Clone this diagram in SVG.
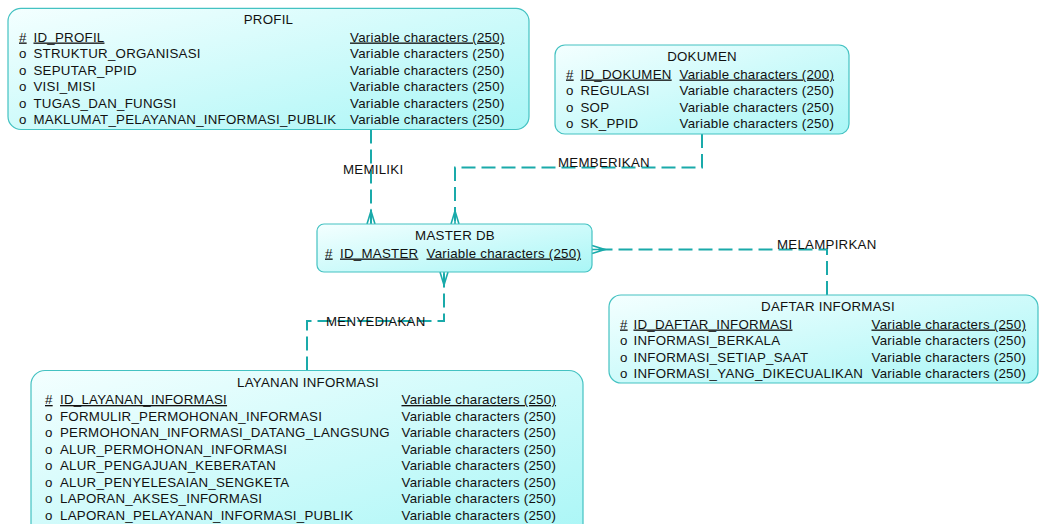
<svg xmlns="http://www.w3.org/2000/svg" width="1040" height="524" viewBox="0 0 1040 524">
<defs>
<linearGradient id="fill" x1="0" y1="0" x2="1" y2="1">
<stop offset="0" stop-color="#f4ffff"/>
<stop offset="1" stop-color="#a9f6f6"/>
</linearGradient>
<style>
text{font-family:"Liberation Sans",Arial,sans-serif;font-size:13.3px;letter-spacing:0.25px;fill:#111}
.box{fill:url(#fill);stroke:#44c2c2;stroke-width:1.2}
.t{text-anchor:middle}
.u{text-decoration:underline}
.ln{fill:none;stroke:#1aaaaa;stroke-width:2;stroke-dasharray:14 6}
.cf{fill:none;stroke:#1aaaaa;stroke-width:1.6}
</style>
</defs>
<rect width="1040" height="524" fill="#fff"/>

<g id="connectors">
<path class="ln" d="M371,129.5 V224"/>
<path class="ln" d="M702,134 V167.5 H455 V224"/>
<path class="ln" d="M827,295 V249.5 H592"/>
<path class="ln" d="M307,370.5 V321 H444 V272"/>
<path class="cf" d="M367,224 L371,211 L375,224 M371,211 V224"/>
<path class="cf" d="M451,224 L455,211 L459,224 M455,211 V224"/>
<path class="cf" d="M592,245.5 L605,249.5 L592,253.5 M605,249.5 H592"/>
<path class="cf" d="M440,272 L444,285 L448,272 M444,285 V272"/>
<text x="343" y="174">MEMILIKI</text>
<text x="558" y="166.5">MEMBERIKAN</text>
<text x="777" y="249">MELAMPIRKAN</text>
<text x="326" y="326">MENYEDIAKAN</text>
</g>

<g id="profil">
<rect class="box" x="8" y="8.3" width="521" height="121.2" rx="13"/>
<text class="t" x="268.5" y="24">PROFIL</text>
<text class="u" x="19" y="41.5">#</text><text class="u" x="33.5" y="41.5">ID_PROFIL</text><text class="u" x="350" y="41.5">Variable characters (250)</text>
<text x="19" y="58">o</text><text x="33.5" y="58">STRUKTUR_ORGANISASI</text><text x="350" y="58">Variable characters (250)</text>
<text x="19" y="74.5">o</text><text x="33.5" y="74.5">SEPUTAR_PPID</text><text x="350" y="74.5">Variable characters (250)</text>
<text x="19" y="91">o</text><text x="33.5" y="91">VISI_MISI</text><text x="350" y="91">Variable characters (250)</text>
<text x="19" y="107.5">o</text><text x="33.5" y="107.5">TUGAS_DAN_FUNGSI</text><text x="350" y="107.5">Variable characters (250)</text>
<text x="19" y="124">o</text><text x="33.5" y="124">MAKLUMAT_PELAYANAN_INFORMASI_PUBLIK</text><text x="350" y="124">Variable characters (250)</text>
</g>

<g id="dokumen">
<rect class="box" x="555" y="45" width="294" height="89" rx="10"/>
<text class="t" x="702" y="61">DOKUMEN</text>
<text class="u" x="566" y="78.5">#</text><text class="u" x="580.5" y="78.5">ID_DOKUMEN</text><text class="u" x="679.5" y="78.5">Variable characters (200)</text>
<text x="566" y="95">o</text><text x="580.5" y="95">REGULASI</text><text x="679.5" y="95">Variable characters (250)</text>
<text x="566" y="111.5">o</text><text x="580.5" y="111.5">SOP</text><text x="679.5" y="111.5">Variable characters (250)</text>
<text x="566" y="128">o</text><text x="580.5" y="128">SK_PPID</text><text x="679.5" y="128">Variable characters (250)</text>
</g>

<g id="master-db">
<rect class="box" x="317" y="224" width="275" height="48" rx="7"/>
<text class="t" x="455" y="239.5">MASTER DB</text>
<text class="u" x="325" y="257.5">#</text><text class="u" x="340" y="257.5">ID_MASTER</text><text class="u" x="426.5" y="257.5">Variable characters (250)</text>
</g>

<g id="daftar-informasi">
<rect class="box" x="609" y="295" width="429" height="88" rx="12"/>
<text class="t" x="828" y="311">DAFTAR INFORMASI</text>
<text class="u" x="620" y="328.5">#</text><text class="u" x="633.5" y="328.5">ID_DAFTAR_INFORMASI</text><text class="u" x="871.5" y="328.5">Variable characters (250)</text>
<text x="620" y="345">o</text><text x="633.5" y="345">INFORMASI_BERKALA</text><text x="871.5" y="345">Variable characters (250)</text>
<text x="620" y="361.5">o</text><text x="633.5" y="361.5">INFORMASI_SETIAP_SAAT</text><text x="871.5" y="361.5">Variable characters (250)</text>
<text x="620" y="378">o</text><text x="633.5" y="378">INFORMASI_YANG_DIKECUALIKAN</text><text x="871.5" y="378">Variable characters (250)</text>
</g>

<g id="layanan-informasi">
<rect class="box" x="31" y="370.5" width="552" height="170" rx="14"/>
<text class="t" x="308" y="387">LAYANAN INFORMASI</text>
<text class="u" x="45" y="404">#</text><text class="u" x="60" y="404">ID_LAYANAN_INFORMASI</text><text class="u" x="401.5" y="404">Variable characters (250)</text>
<text x="45" y="420.5">o</text><text x="60" y="420.5">FORMULIR_PERMOHONAN_INFORMASI</text><text x="401.5" y="420.5">Variable characters (250)</text>
<text x="45" y="437">o</text><text x="60" y="437">PERMOHONAN_INFORMASI_DATANG_LANGSUNG</text><text x="401.5" y="437">Variable characters (250)</text>
<text x="45" y="453.5">o</text><text x="60" y="453.5">ALUR_PERMOHONAN_INFORMASI</text><text x="401.5" y="453.5">Variable characters (250)</text>
<text x="45" y="470">o</text><text x="60" y="470">ALUR_PENGAJUAN_KEBERATAN</text><text x="401.5" y="470">Variable characters (250)</text>
<text x="45" y="486.5">o</text><text x="60" y="486.5">ALUR_PENYELESAIAN_SENGKETA</text><text x="401.5" y="486.5">Variable characters (250)</text>
<text x="45" y="503">o</text><text x="60" y="503">LAPORAN_AKSES_INFORMASI</text><text x="401.5" y="503">Variable characters (250)</text>
<text x="45" y="519.5">o</text><text x="60" y="519.5">LAPORAN_PELAYANAN_INFORMASI_PUBLIK</text><text x="401.5" y="519.5">Variable characters (250)</text>
</g>
</svg>
